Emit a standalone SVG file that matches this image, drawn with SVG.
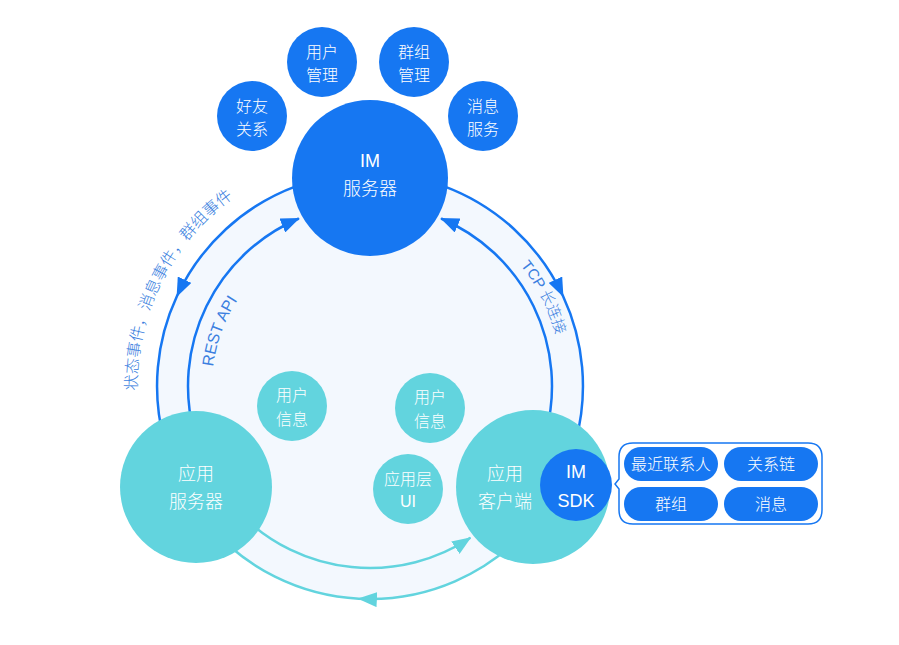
<svg xmlns="http://www.w3.org/2000/svg" width="899" height="645" viewBox="0 0 899 645">
<style>
text{font-family:"Liberation Sans","Noto Sans CJK SC",sans-serif;text-anchor:middle;fill:#fff;font-weight:300}
.b{fill:#1677f2}
.t{fill:#62d4de}
.cb{fill:none;stroke:#1677f2;stroke-width:2.5}
.ct{fill:none;stroke:#62d4de;stroke-width:2.5}
.lbl{fill:#3b7fe0;font-size:15px}
.f18{font-size:18px}
.f16{font-size:16px}
.pill{fill:#1677f2}
</style>
<defs>
<marker id="ab" markerUnits="userSpaceOnUse" markerWidth="19" markerHeight="15" refX="18" refY="7.5" orient="auto"><path d="M0,0 L19,7.5 L0,15 z" fill="#1677f2"/></marker>
<marker id="at" markerUnits="userSpaceOnUse" markerWidth="19" markerHeight="15" refX="18" refY="7.5" orient="auto"><path d="M0,0 L19,7.5 L0,15 z" fill="#62d4de"/></marker>
<path id="pEv" d="M151.1,465.7 A233,233 0 0 1 301.9,163.2" fill="none"/>
<path id="pRest" d="M214.4,413.4 A158,158 0 0 1 268.4,265.0" fill="none"/>
<path id="pTcp" d="M475.1,224.1 A193,193 0 0 1 562.7,396.1" fill="none"/>
</defs>
<circle cx="370" cy="386" r="213" fill="#f3f8fe"/>
<g id="connectors">
<path class="cb" marker-mid="url(#ab)" d="M297.1,185.8 A213,213 0 0 0 177.0,296.0 A213,213 0 0 0 164.3,441.1"/>
<path class="cb" marker-mid="url(#ab)" d="M442.9,185.8 A213,213 0 0 1 563.0,296.0 A213,213 0 0 1 575.7,441.1"/>
<path class="cb" marker-end="url(#ab)" d="M194.2,433.1 A182,182 0 0 1 298.9,218.5"/>
<path class="cb" marker-end="url(#ab)" d="M545.8,433.1 A182,182 0 0 0 441.1,218.5"/>
<path class="ct" marker-end="url(#at)" d="M241.3,514.7 A182,182 0 0 0 470.4,537.8"/>
<path class="ct" marker-mid="url(#at)" d="M533.2,522.9 A213,213 0 0 1 358.9,598.7 A213,213 0 0 1 206.8,522.9"/>
<text class="lbl" style="font-size:16px"><textPath href="#pEv" startOffset="50%">状态事件，消息事件，群组事件</textPath></text>
<text class="lbl" style="font-size:16px"><textPath href="#pRest" startOffset="50%">REST API</textPath></text>
<text class="lbl"><textPath href="#pTcp" startOffset="50%">TCP 长连接</textPath></text>
</g>
<g id="im-server"><circle class="b" cx="370" cy="178" r="78"/><text class="f18" x="370" y="167">IM</text><text class="f18" x="370" y="195">服务器</text></g>
<g id="friend"><circle class="b" cx="252" cy="116" r="35"/><text class="f16" x="252" y="112">好友</text><text class="f16" x="252" y="135">关系</text></g>
<g id="user-mgmt"><circle class="b" cx="322" cy="62" r="35"/><text class="f16" x="322" y="58">用户</text><text class="f16" x="322" y="81">管理</text></g>
<g id="group-mgmt"><circle class="b" cx="414" cy="62" r="35"/><text class="f16" x="414" y="58">群组</text><text class="f16" x="414" y="81">管理</text></g>
<g id="msg-service"><circle class="b" cx="483" cy="116" r="35"/><text class="f16" x="483" y="112">消息</text><text class="f16" x="483" y="135">服务</text></g>
<g id="app-server"><circle class="t" cx="196" cy="487" r="76"/><text class="f18" x="196" y="480">应用</text><text class="f18" x="196" y="508">服务器</text></g>
<g id="user-info-1"><circle class="t" cx="292" cy="406" r="35"/><text class="f16" x="292" y="401">用户</text><text class="f16" x="292" y="425">信息</text></g>
<g id="user-info-2"><circle class="t" cx="430" cy="408" r="35"/><text class="f16" x="430" y="403">用户</text><text class="f16" x="430" y="427">信息</text></g>
<g id="app-ui"><circle class="t" cx="408" cy="489" r="35"/><text class="f16" x="408" y="485">应用层</text><text class="f16" x="408" y="507">UI</text></g>
<g id="app-client"><circle class="t" cx="533" cy="487" r="77"/><text class="f18" x="505" y="480">应用</text><text class="f18" x="505" y="508">客户端</text></g>
<g id="im-sdk"><circle class="b" cx="576" cy="485" r="36"/><text class="f18" x="576" y="478">IM</text><text class="f18" x="576" y="507">SDK</text></g>
<g id="sdk-panel">
<path d="M633,443 H808 Q822,443 822,457 V510 Q822,524 808,524 H633 Q619,524 619,510 V489 L615,484 L619,479 V457 Q619,443 633,443 Z" fill="#fff" stroke="#1677f2" stroke-width="1.5"/>
<g id="recent"><rect class="pill" x="624" y="447" width="94" height="34" rx="17"/><text class="f16" x="671" y="470">最近联系人</text></g>
<g id="relation"><rect class="pill" x="724" y="447" width="94" height="34" rx="17"/><text class="f16" x="771" y="470">关系链</text></g>
<g id="group"><rect class="pill" x="624" y="487" width="94" height="34" rx="17"/><text class="f16" x="671" y="510">群组</text></g>
<g id="message"><rect class="pill" x="724" y="487" width="94" height="34" rx="17"/><text class="f16" x="771" y="510">消息</text></g>
</g>
</svg>
